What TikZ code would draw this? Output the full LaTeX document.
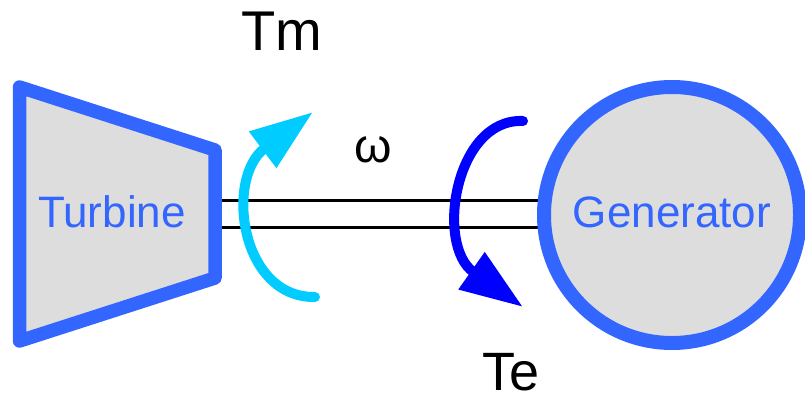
\documentclass[tikz,border=0pt]{standalone}
\usepackage{fontspec}
\setmainfont{Liberation Sans}
\usetikzlibrary{arrows.meta}
\definecolor{edgeblue}{HTML}{3366FF}
\definecolor{fillgray}{HTML}{DDDDDD}
\definecolor{cyanarrow}{HTML}{00CCFF}
\definecolor{bluearrow}{HTML}{0000FF}
\tikzset{
  machine/.style={draw=edgeblue, fill=fillgray, line width=13.5pt, line join=round},
  machinetext/.style={text=edgeblue, font=\fontsize{44}{50}\selectfont, inner sep=0pt},
  label/.style={text=black, inner sep=0pt},
  shaftline/.style={draw=black, line width=3pt},
  torque/.style={line width=10pt, line cap=round, -{Triangle[length=63pt,width=43pt]}},
}
\begin{document}
\begin{tikzpicture}[x=1pt,y=-1pt]
\useasboundingbox (0,0) rectangle (805,402);
% shaft
\coordinate (s1a) at (215,200);
\coordinate (s1b) at (550,200);
\coordinate (s2a) at (215,227);
\coordinate (s2b) at (550,227);
\draw[shaftline] (s1a) -- (s1b);
\draw[shaftline] (s2a) -- (s2b);
% turbine
\coordinate (t1) at (19.5,87);
\coordinate (t2) at (215,150);
\coordinate (t3) at (215,278);
\coordinate (t4) at (19.5,341);
\draw[machine] (t1) -- (t2) -- (t3) -- (t4) -- cycle;
\node[machinetext] (turb) at (112,212) {Turbine};
% generator
\node[machine, circle, minimum size=256pt, inner sep=0pt, line width=14pt] (gen) at (672,215) {};
\node[machinetext] (gentext) at (672,212) {Generator};
% torque arrows
\coordinate (c1) at (315,297);
\coordinate (c2) at (313,112);
\draw[torque, cyanarrow] (c1) .. controls (240,298) and (225,178) .. (c2);
\coordinate (b1) at (523,121);
\coordinate (b2) at (523,307);
\draw[torque, bluearrow] (b1) .. controls (455,118) and (435,245) .. (b2);
% labels
\node[label, font=\fontsize{56}{60}\selectfont] (tm) at (282,31) {Tm};
\node[label, font=\fontsize{54}{60}\selectfont] (te) at (511,372) {Te};
\node[label, font=\fontsize{48}{56}\selectfont] (omega) at (373,150) {ω};
\end{tikzpicture}
\end{document}
